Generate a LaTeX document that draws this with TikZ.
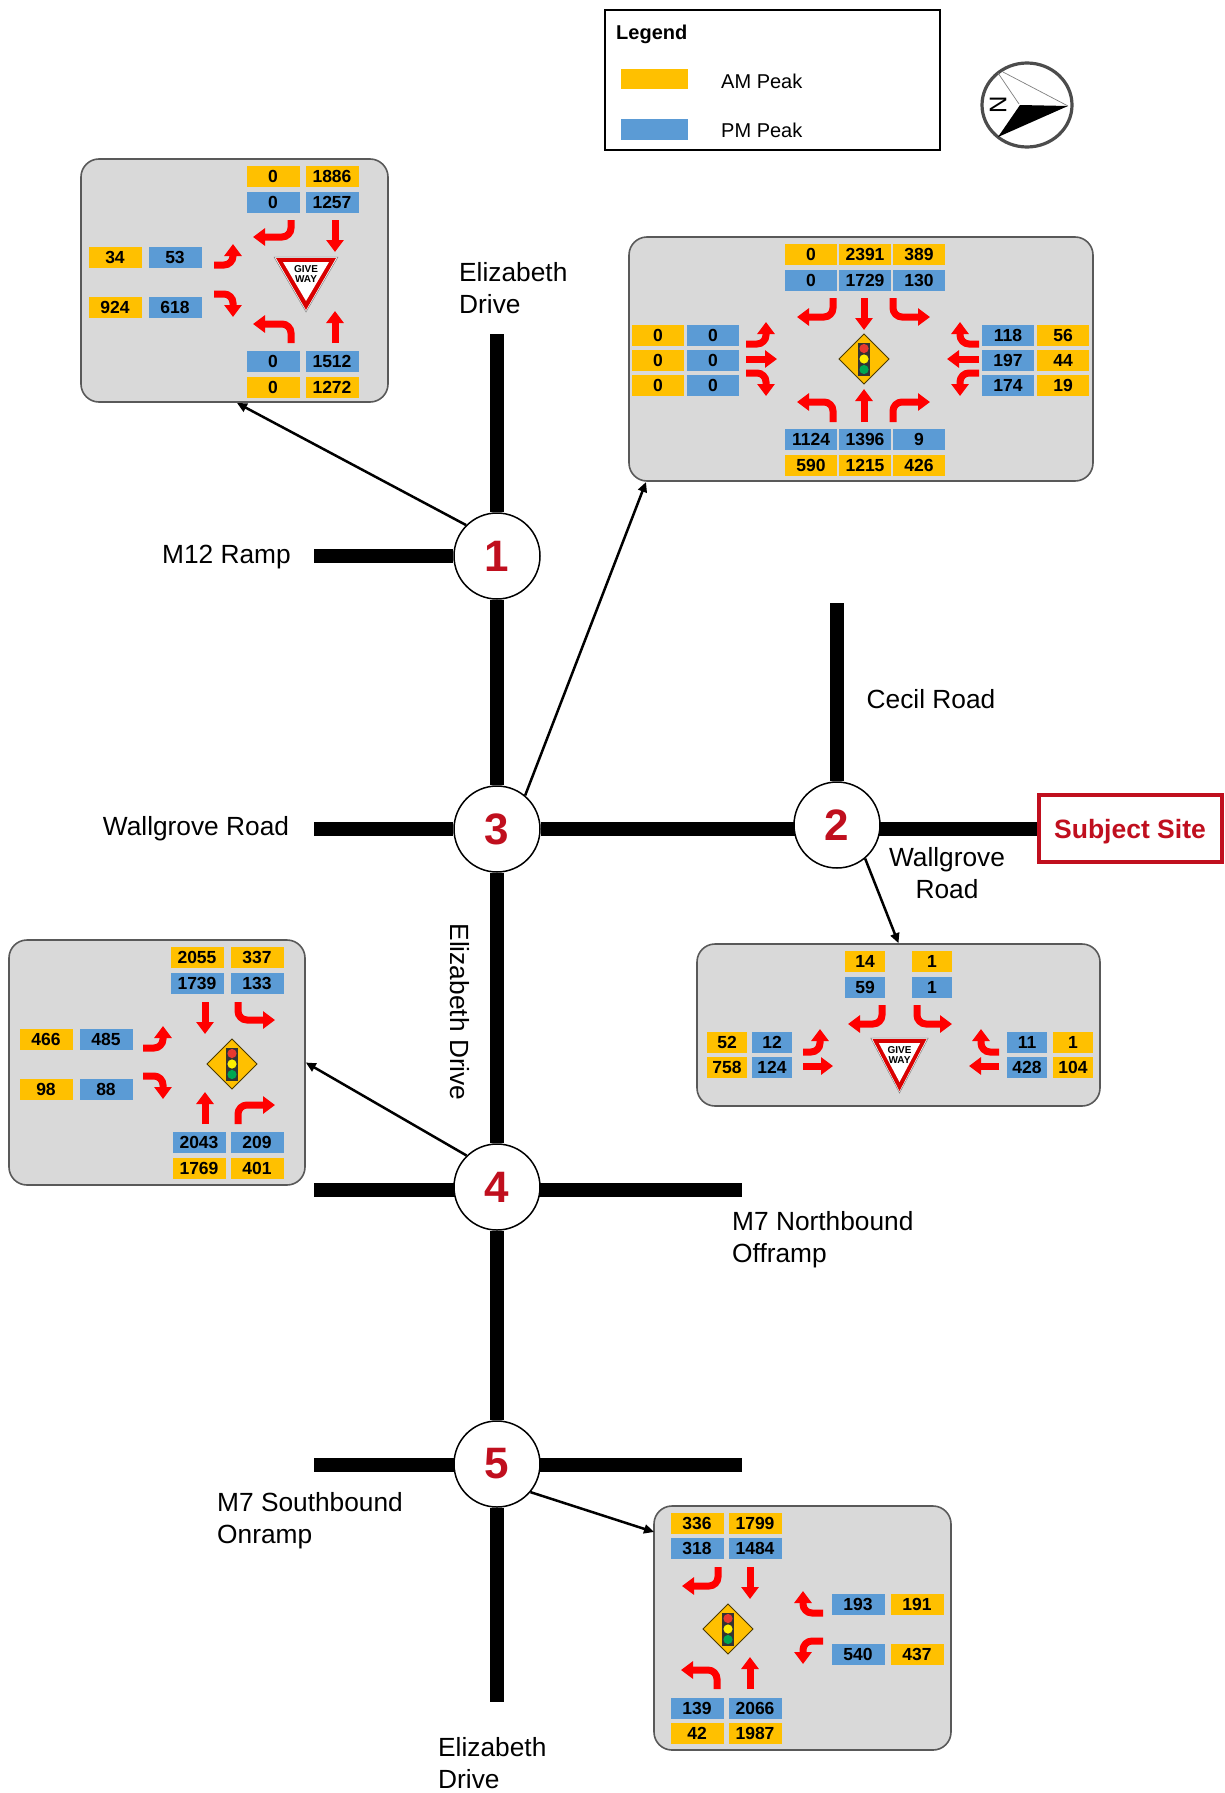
\documentclass[tikz,border=0pt]{standalone}
\usepackage{fontspec}
\setmainfont{Liberation Sans}
\usepackage{xcolor}
\usetikzlibrary{arrows.meta,backgrounds}
\definecolor{amc}{HTML}{FFC000}
\definecolor{pmc}{HTML}{5B9BD5}
\definecolor{panelc}{HTML}{D9D9D9}
\definecolor{paneledge}{HTML}{595959}
\definecolor{sitered}{HTML}{C00F1E}
\definecolor{lightgreen}{HTML}{00A651}
\definecolor{lightred}{HTML}{E8392F}
\definecolor{lightyellow}{HTML}{FFEE00}
\tikzset{
  road/.style={line width=13.5pt},
  roadtext/.style={inner sep=0pt, font=\fontsize{26.3}{32}\selectfont},
  junction/.style={circle, draw=black, line width=1.5pt, fill=white, minimum size=86pt, inner sep=0pt, text=sitered, font=\fontsize{44}{44}\selectfont\bfseries},
  panel/.style={draw=paneledge, line width=1.6pt, fill=panelc, rounded corners=18pt, inner sep=0pt},
  chip/.style={minimum width=53pt, minimum height=21pt, inner sep=0pt, font=\fontsize{17.5}{17.5}\selectfont\bfseries},
  amchip/.style={chip, fill=amc},
  pmchip/.style={chip, fill=pmc},
  flow/.style={draw=red, line width=7pt, rounded corners=9pt, -{Triangle[length=12pt,width=17pt]}},
  leader/.style={draw=black, line width=2.5pt, -{Triangle[length=10pt,width=9pt]}},
  giveway/.pic={
    \fill[white, draw=gray, line width=.5pt] (-32,-22) -- (32,-22) -- (0,33) -- cycle;
    \fill[red!85!black] (-30,-21) -- (30,-21) -- (0,31) -- cycle;
    \fill[white] (-23,-17) -- (23,-17) -- (0,22) -- cycle;
    \node[align=center, inner sep=0pt, font=\fontsize{10}{10}\selectfont\bfseries] (-word) at (0,-5) {GIVE\\WAY};
  },
  lights/.pic={
    \draw[fill=amc, draw=black!70!amc, line width=1pt] (-25,0) -- (0,-25) -- (25,0) -- (0,25) -- cycle;
    \fill[black!80] (-6,-16.5) rectangle (6,16.5);
    \fill[lightred] (0,-10.5) circle (4.6);
    \fill[lightyellow] (0,0) circle (4.6);
    \fill[lightgreen] (0,10.5) circle (4.6);
  }
}
\begin{document}
\begin{tikzpicture}[x=1pt, y=-1pt]
  \useasboundingbox (0,0) rectangle (1224,1793);

  \node[junction] (n1) at (497,556) {1};
  \node[junction] (n3) at (497,829) {3};
  \node[junction] (n2) at (837,825) {2};
  \node[junction] (n4) at (497,1187) {4};
  \node[junction] (n5) at (497,1464) {5};
  \node[draw=sitered, line width=4pt, fill=white, minimum width=183pt, minimum height=67pt, inner sep=0pt] (site) at (1130.5,828.5) {};
  \node[inner sep=0pt, text=sitered, font=\fontsize{26.5}{27}\selectfont\bfseries] (sitetext) at (1130,831.5) {Subject Site};

  \coordinate (driveN) at (497,334);
  \coordinate (driveS) at (497,1702);
  \coordinate (m12W) at (314,556);
  \coordinate (wallW) at (314,829);
  \coordinate (cecilN) at (837,603);
  \coordinate (m7nW) at (314,1190);
  \coordinate (m7nE) at (742,1190);
  \coordinate (m7sW) at (314,1465);
  \coordinate (m7sE) at (742,1465);
  \begin{scope}[on background layer]
    \draw[road] (driveN) -- (n1) -- (n3) -- (n4) -- (n5) -- (driveS);
    \draw[road] (m12W) -- (n1);
    \draw[road] (wallW) -- (n3);
    \draw[road] (n3) -- (site.west |- n3);
    \draw[road] (cecilN) -- (n2);
    \draw[road] (m7nW) -- (m7nE);
    \draw[road] (m7sW) -- (m7sE);
  \end{scope}

  \node[roadtext, align=left, anchor=west] (elizN) at (459,288) {Elizabeth\\Drive};
  \node[roadtext] (m12) at (226.5,557) {M12 Ramp};
  \node[roadtext] (cecil) at (931,699) {Cecil Road};
  \node[roadtext] (wallL) at (196,829) {Wallgrove Road};
  \node[roadtext, align=center] (wallR) at (947,873.5) {Wallgrove\\Road};
  \node[roadtext, rotate=-90] (elizM) at (460,1012) {Elizabeth Drive};
  \node[roadtext, align=left, anchor=west] (m7n) at (732,1240) {M7 Northbound\\Offramp};
  \node[roadtext, align=left, anchor=west] (m7s) at (217,1521) {M7 Southbound\\Onramp};
  \node[roadtext, align=left, anchor=west] (elizS) at (438,1763) {Elizabeth\\Drive};

  % legend and north point
  \node[draw=black, line width=2pt, minimum width=335pt, minimum height=140pt, inner sep=0pt] (legend) at (772.5,80) {};
  \node[anchor=west, inner sep=0pt, font=\fontsize{20}{20}\selectfont\bfseries] (legendtitle) at (616,34) {Legend};
  \node[fill=amc, minimum width=67pt, minimum height=20pt, inner sep=0pt] (amswatch) at (654.5,79) {};
  \node[fill=pmc, minimum width=67pt, minimum height=21pt, inner sep=0pt] (pmswatch) at (654.5,129.5) {};
  \node[anchor=west, inner sep=0pt, font=\fontsize{20}{20}\selectfont] (amtext) at (721,81) {AM Peak};
  \node[anchor=west, inner sep=0pt, font=\fontsize{20}{20}\selectfont] (pmtext) at (721,130) {PM Peak};
  \draw[fill=white, draw=black!70, line width=3.2pt] (1027,105) ellipse (45 and 42);
  \fill[black] (998,137) -- (1068,106) -- (1020,105) -- cycle;
  \draw[gray, line width=.7pt] (998,73) -- (1019,104);
  \draw[gray, line width=.7pt] (1003,72) -- (1068,106);
  \node[rotate=90, inner sep=0pt, font=\fontsize{24}{24}\selectfont] (north) at (998,105) {N};

  % intersection 1
  \node[panel, minimum width=307pt, minimum height=243pt] (panelA) at (234.5,280.5) {};
  \foreach \x/\y/\v [count=\i] in {273/176/0, 332/176/1886, 115/257/34, 115/307/924, 273/387/0, 332/387/1272}
    \node[amchip] (amA\i) at (\x,\y) {\v};
  \foreach \x/\y/\v [count=\i] in {273/202/0, 332/202/1257, 175/257/53, 175/307/618, 273/361/0, 332/361/1512}
    \node[pmchip] (pmA\i) at (\x,\y) {\v};
  \draw[flow] (291,220) |- (253,237);
  \draw[flow] (335,220) -- (335,252);
  \draw[flow] (214,265) -| (233,244);
  \draw[flow] (214,294) -| (233,317);
  \draw[flow] (291,343) |- (253,324);
  \draw[flow] (335,343) -- (335,311);
  \pic (signA) at (306,279) {giveway};

  % intersection 2
  \node[panel, minimum width=403pt, minimum height=162pt] (panelC) at (898.5,1025) {};
  \foreach \x/\y/\v [count=\i] in {865/961/14, 932/961/1, 727/1042/52, 727/1067/758, 1073/1042/1, 1073/1067/104}
    \node[amchip, minimum width=40pt] (amC\i) at (\x,\y) {\v};
  \foreach \x/\y/\v [count=\i] in {865/987/59, 932/987/1, 772/1042/12, 772/1067/124, 1027/1042/11, 1027/1067/428}
    \node[pmchip, minimum width=40pt] (pmC\i) at (\x,\y) {\v};
  \draw[flow] (882,1005) |- (848,1024);
  \draw[flow] (917,1005) |- (952,1024);
  \draw[flow] (803,1052) -| (820,1029);
  \draw[flow] (803,1066) -- (833,1066);
  \draw[flow] (999,1052) -| (981,1029);
  \draw[flow] (999,1066) -- (969,1066);
  \pic[xscale=.9] (signC) at (899.5,1060) {giveway};

  % intersection 3
  \node[panel, minimum width=464pt, minimum height=244pt] (panelB) at (861,359) {};
  \foreach \x/\y/\v [count=\i] in {811/254/0, 865/254/2391, 919/254/389, 658/335/0, 658/360/0, 658/385/0, 1063/335/56, 1063/360/44, 1063/385/19, 811/465/590, 865/465/1215, 919/465/426}
    \node[amchip, minimum width=52pt] (amB\i) at (\x,\y) {\v};
  \foreach \x/\y/\v [count=\i] in {811/280/0, 865/280/1729, 919/280/130, 713/335/0, 713/360/0, 713/385/0, 1008/335/118, 1008/360/197, 1008/385/174, 811/439/1124, 865/439/1396, 919/439/9}
    \node[pmchip, minimum width=52pt] (pmB\i) at (\x,\y) {\v};
  \draw[flow] (833,298) |- (797,317);
  \draw[flow] (864,298) -- (864,330);
  \draw[flow] (893,298) |- (930,317);
  \draw[flow] (746,344) -| (766,322);
  \draw[flow] (746,359) -- (777,359);
  \draw[flow] (746,373) -| (766,396);
  \draw[flow] (979,344) -| (960,322);
  \draw[flow] (979,359) -- (947,359);
  \draw[flow] (979,373) -| (960,396);
  \draw[flow] (833,422) |- (797,402);
  \draw[flow] (864,422) -- (864,389);
  \draw[flow] (893,422) |- (930,402);
  \pic (signB) at (864,359) {lights};

  % intersection 4
  \node[panel, minimum width=296pt, minimum height=245pt] (panelD) at (157,1062.5) {};
  \foreach \x/\y/\v [count=\i] in {197/957/2055, 257/957/337, 46/1039/466, 46/1089/98, 199/1168/1769, 257/1168/401}
    \node[amchip] (amD\i) at (\x,\y) {\v};
  \foreach \x/\y/\v [count=\i] in {197/983/1739, 257/983/133, 106/1039/485, 106/1089/88, 199/1142/2043, 257/1142/209}
    \node[pmchip] (pmD\i) at (\x,\y) {\v};
  \draw[flow] (205,1002) -- (205,1034);
  \draw[flow] (238,1002) |- (275,1020);
  \draw[flow] (143,1048) -| (163,1026);
  \draw[flow] (143,1076) -| (163,1099);
  \draw[flow] (205,1124) -- (205,1092);
  \draw[flow] (238,1124) |- (275,1105);
  \pic (signD) at (232,1064) {lights};

  % intersection 5
  \node[panel, minimum width=297pt, minimum height=244pt] (panelE) at (802.5,1628) {};
  \foreach \x/\y/\v [count=\i] in {697/1523/336, 755/1523/1799, 917/1604/191, 917/1654/437, 697/1733/42, 755/1733/1987}
    \node[amchip] (amE\i) at (\x,\y) {\v};
  \foreach \x/\y/\v [count=\i] in {697/1548/318, 755/1548/1484, 858/1604/193, 858/1654/540, 697/1708/139, 755/1708/2066}
    \node[pmchip] (pmE\i) at (\x,\y) {\v};
  \draw[flow] (718,1567) |- (682,1586);
  \draw[flow] (750,1567) -- (750,1599);
  \draw[flow] (823,1613) -| (803,1591);
  \draw[flow] (823,1641) -| (803,1664);
  \draw[flow] (717,1689) |- (681,1670);
  \draw[flow] (750,1689) -- (750,1657);
  \pic (signE) at (728,1629) {lights};

  \coordinate (tipA) at (237,403);
  \coordinate (tipB) at (646,482);
  \coordinate (tipE) at (654,1532);
  \draw[leader] (n1.135) -- (tipA);
  \draw[leader] (n3.50) -- (tipB);
  \draw[leader] (n2.-50) -- (panelC.north);
  \draw[leader] (n4.134) -- (panelD.east);
  \draw[leader] (n5.-40) -- (tipE);
\end{tikzpicture}
\end{document}
